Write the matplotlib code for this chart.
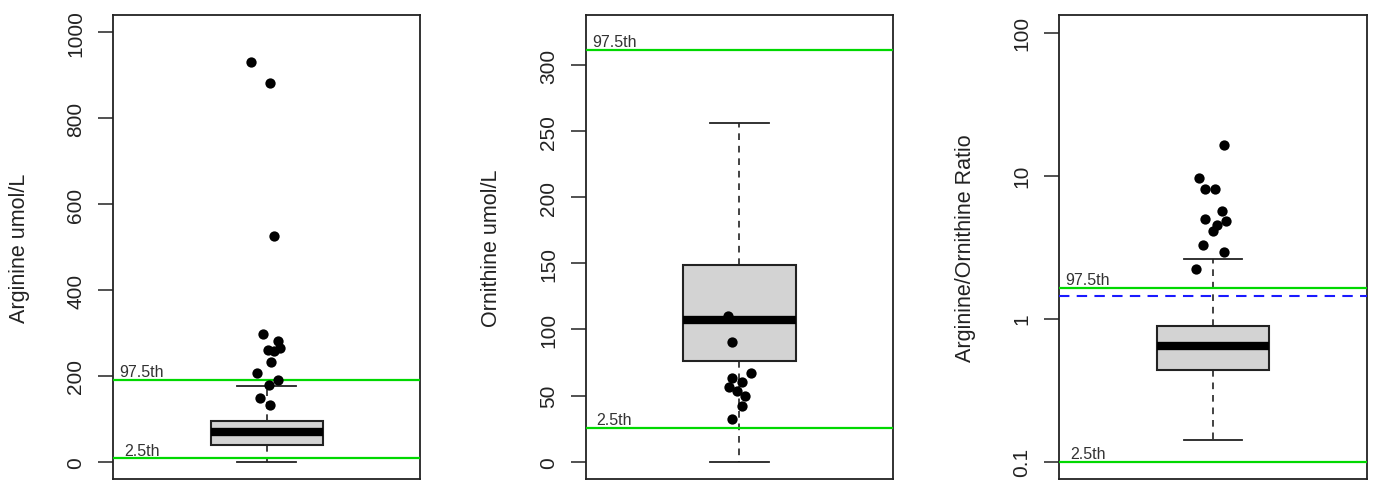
import matplotlib
matplotlib.use("Agg")
import matplotlib.pyplot as plt
import numpy as np

plt.rcParams['font.family'] = ['Liberation Sans', 'DejaVu Sans']

# ---- data ----
ylabels = ["Arginine umol/L", "Ornithine umol/L", "Arginine/Ornithine Ratio"]

# box statistics: whislo, q1, median, q3, whishi
arg_box = [0, 39.6, 68.5, 95.5, 175.5]
orn_box = [0, 76.3, 107.3, 148.6, 256]
ratio_box = [0.1426, 0.440, 0.647, 0.894, 2.63]

# overlaid patient points (value, horizontal jitter)
arg_pts = [930, 881, 526, 298, 282, 266, 261, 258, 233, 206, 191, 179, 148, 132]
arg_jit = [-0.050, 0.012, 0.024, -0.012, 0.037, 0.042, 0.004, 0.023, 0.013, -0.032, 0.037, 0.007, -0.023, 0.010]
orn_pts = [110.3, 90.7, 67, 63, 60, 56.2, 53.7, 49.9, 41.9, 32.3]
orn_jit = [-0.036, -0.025, 0.037, -0.025, 0.010, -0.033, -0.008, 0.019, 0.010, -0.023]
ratio_pts = [16.3, 9.58, 8.06, 8.06, 5.63, 4.97, 4.80, 4.54, 4.08, 3.26, 2.92, 2.22]
ratio_jit = [0.037, -0.044, -0.027, 0.007, 0.029, -0.027, 0.042, 0.012, -0.001, -0.034, 0.037, -0.054]

# reference percentiles
arg_ref = [8, 191]        # 2.5th, 97.5th
orn_ref = [25.5, 311.3]
ratio_ref = [0.1, 1.639]
ratio_dash = 1.43

ref_names = ["2.5th", "97.5th"]

arg_ticks = [0, 200, 400, 600, 800, 1000]
orn_ticks = [0, 50, 100, 150, 200, 250, 300]
ratio_ticks = [0.1, 1, 10, 100]
ratio_ticklabels = ["0.1", "1", "10", "100"]

# ---- figure ----
W, H = 1375, 481
fig = plt.figure(figsize=(W / 100, H / 100), dpi=100)
lefts = [113, 585.7, 1059.3]
axw = 307.4
bottom_px, top_px = 480, 16

boxes = [arg_box, orn_box, ratio_box]
pts = [arg_pts, orn_pts, ratio_pts]
jits = [arg_jit, orn_jit, ratio_jit]
refs = [arg_ref, orn_ref, ratio_ref]
ticks = [arg_ticks, orn_ticks, ratio_ticks]
ylims = [(-40, 1040), (-13.07, 337.8), (10 ** -1.121, 10 ** 2.123)]

green = '#00d800'
for i in range(3):
    ax = fig.add_axes([lefts[i] / W, 1 - bottom_px / H, axw / W, (bottom_px - top_px) / H])
    if i == 2:
        ax.set_yscale('log')
    b = boxes[i]
    stats = [dict(whislo=b[0], q1=b[1], med=b[2], q3=b[3], whishi=b[4], fliers=[])]
    ax.bxp(stats, positions=[1], widths=0.365, capwidths=0.19, patch_artist=True,
           showfliers=False,
           boxprops=dict(facecolor='#D3D3D3', edgecolor='#222222', linewidth=1.5),
           medianprops=dict(color='black', linewidth=6, solid_capstyle='butt'),
           whiskerprops=dict(color='#222222', linewidth=1.2, linestyle=(0, (4, 3.5))),
           capprops=dict(color='#222222', linewidth=1.3))
    x = 1 + np.array(jits[i])
    ax.scatter(x, pts[i], s=55, color='black', zorder=4, linewidths=0)
    for v, name in zip(refs[i], ref_names):
        ax.axhline(v, color=green, linewidth=1.6, zorder=3)
        ax.annotate(name, xy=(0.593, v), xytext=(0, 0.5), textcoords='offset points',
                    ha='center', va='bottom', fontsize=11.5, color='#333333', zorder=5)
    if i == 2:
        ax.axhline(ratio_dash, color='#1a1aff', linewidth=1.5, linestyle=(0, (5, 3.5)), zorder=3)
    ax.set_xlim(0.5, 1.5)
    ax.set_ylim(*ylims[i])
    ax.set_xticks([])
    ax.set_yticks(ticks[i])
    if i == 2:
        ax.set_yticklabels(ratio_ticklabels)
        ax.yaxis.set_minor_locator(matplotlib.ticker.NullLocator())
    ax.tick_params(axis='y', length=11, width=1.1, pad=9, labelsize=15, colors='#222222',
                   labelrotation=90)
    for lab in ax.get_yticklabels():
        lab.set_va('center')
    for sp in ax.spines.values():
        sp.set_linewidth(1.3)
        sp.set_color('#222222')
    ax.set_ylabel(ylabels[i], fontsize=15.5, color='#222222', va='center')
    ax.yaxis.set_label_coords(-0.305, 0.5)

fig.savefig("out.png", dpi=100)
